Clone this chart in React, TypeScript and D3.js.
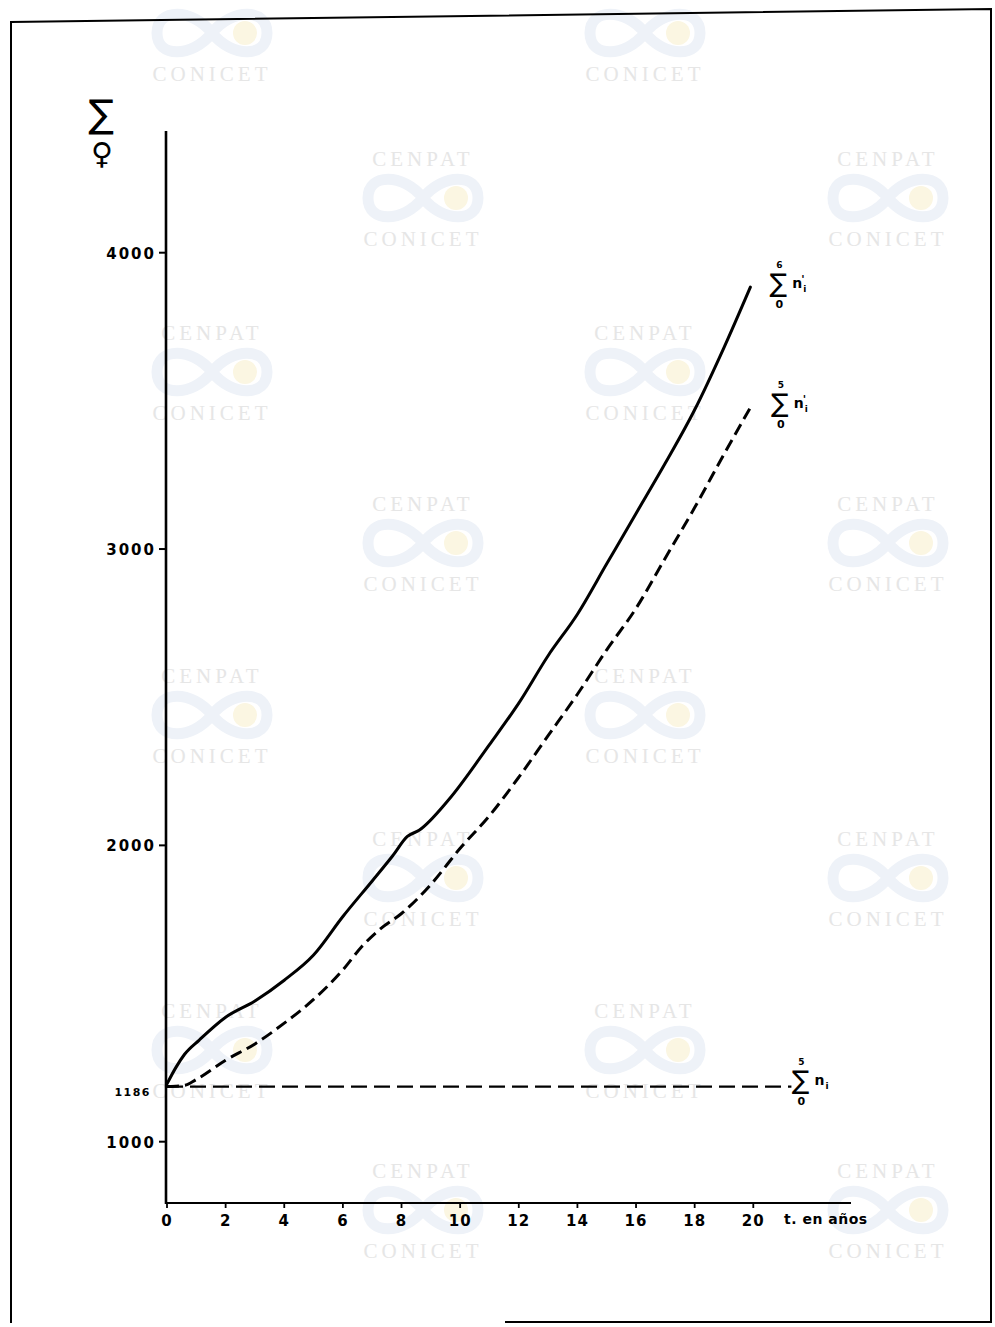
import React from "react";
import * as d3 from "d3";

// years since t = 0
const solidYears = [0, 0.3, 0.6, 1.1, 2, 3, 4, 5, 6, 7, 7.7, 8.2, 8.6, 9.6, 11, 12, 13, 14, 15, 16, 17, 18, 19, 19.9];
const solidFemales = [1195, 1250, 1295, 1343, 1420, 1475, 1545, 1630, 1760, 1880, 1965, 2030, 2051, 2153, 2340, 2480, 2640, 2780, 2950, 3120, 3290, 3470, 3680, 3884];

const dashYears = [0, 0.6, 1, 2, 3, 4, 5, 6, 6.64, 7.3, 8, 9, 10, 11, 12, 13, 14, 15, 16, 17, 18, 19, 19.95];
const dashFemales = [1186, 1190, 1210, 1275, 1330, 1400, 1480, 1580, 1658, 1720, 1770, 1868, 1990, 2100, 2230, 2370, 2510, 2660, 2800, 2970, 3140, 3320, 3486];

const baseYears = [0, 21.3];
const baseFemales = [1186, 1186];

const xTicks = [0, 2, 4, 6, 8, 10, 12, 14, 16, 18, 20];
const yTicks = [1000, 2000, 3000, 4000];
const baseLabel = "1186";
const xTitle = "t. en años";

// scanned watermark rows (top of the CENPAT line)
const markRowsA = [-7, 332, 675, 1010];
const markRowsB = [158, 503, 838, 1170];
const markColsA = [212, 645];
const markColsB = [423, 888];

const W = 995;
const H = 1327;

const x = d3.scaleLinear().domain([0, 20]).range([167, 753.3]);
const y = d3.scaleLinear().domain([1000, 4000]).range([1141.7, 252.7]);

const line = d3
  .line<[number, number]>()
  .x((d) => x(d[0]))
  .y((d) => y(d[1]))
  .curve(d3.curveMonotoneX);

const zip = (a: number[], b: number[]) => a.map((v, i) => [v, b[i]] as [number, number]);

const font = "'DejaVu Sans', sans-serif";

const Watermark = ({ cx, top }: { cx: number; top: number }) => (
  <g>
    {top > 0 && (
      <text x={cx} y={top + 8} textAnchor="middle" fontFamily="'Liberation Serif', serif" fontSize={21} letterSpacing={4} fill="#e6e6e6">
        CENPAT
      </text>
    )}
    <path
      d={`M${cx - 55},${top + 40} C${cx - 55},${top + 15} ${cx - 20},${top + 15} ${cx},${top + 40} C${cx + 20},${top + 65} ${cx + 55},${top + 65} ${cx + 55},${top + 40} C${cx + 55},${top + 15} ${cx + 20},${top + 15} ${cx},${top + 40} C${cx - 20},${top + 65} ${cx - 55},${top + 65} ${cx - 55},${top + 40} Z`}
      fill="none"
      stroke="#eef2f8"
      strokeWidth={11}
    />
    <circle cx={cx + 33} cy={top + 40} r={12} fill="#fbf6e2" />
    <text x={cx} y={top + 88} textAnchor="middle" fontFamily="'Liberation Serif', serif" fontSize={21} letterSpacing={4} fill="#e6e6e6">
      CONICET
    </text>
  </g>
);

const SumLabel = ({ cx, cy, top, prime }: { cx: number; cy: number; top: string; prime: boolean }) => (
  <g fontFamily={font} fill="#000">
    <text x={cx} y={cy} textAnchor="middle" dominantBaseline="central" fontSize={26}>
      ∑
    </text>
    <text x={cx + 1} y={cy - 15} textAnchor="middle" fontSize={9} fontWeight="bold">
      {top}
    </text>
    <text x={cx + 1} y={cy + 25} textAnchor="middle" fontSize={11} fontWeight="bold">
      0
    </text>
    <text x={cx + 14} y={cy + 5} fontSize={14} fontWeight="bold">
      n
    </text>
    {prime && (
      <text x={cx + 23} y={cy} fontSize={11} fontWeight="bold">
        '
      </text>
    )}
    <text x={cx + 25} y={cy + 9} fontSize={9} fontWeight="bold">
      i
    </text>
  </g>
);

export default function App() {
  const solid = zip(solidYears, solidFemales);
  const dashed = zip(dashYears, dashFemales);
  const base = zip(baseYears, baseFemales);
  const axisBottom = 1203;
  const solidEnd = solid[solid.length - 1];
  const dashEnd = dashed[dashed.length - 1];
  const baseEnd = base[base.length - 1];

  return (
    <svg width={W} height={H} style={{ position: "absolute", left: 0, top: 0, background: "#fff" }}>
      <rect width={W} height={H} fill="#fff" />
      {markRowsA.map((t) => markColsA.map((c) => <Watermark key={`a${t}${c}`} cx={c} top={t} />))}
      {markRowsB.map((t) => markColsB.map((c) => <Watermark key={`b${t}${c}`} cx={c} top={t} />))}

      {/* frame of the scanned page */}
      <path d="M11,1323 L11,22 L991,9 L991,1322 L505,1322" fill="none" stroke="#000" strokeWidth={2} />

      {/* axes */}
      <line x1={166} x2={166} y1={131} y2={axisBottom + 1} stroke="#000" strokeWidth={2.6} />
      <line x1={165} x2={851} y1={axisBottom} y2={axisBottom} stroke="#000" strokeWidth={2.2} />
      {yTicks.map((v) => (
        <g key={v}>
          <line x1={159} x2={166} y1={y(v)} y2={y(v)} stroke="#000" strokeWidth={2} />
          <text x={156} y={y(v) + 6} textAnchor="end" fontFamily={font} fontWeight="bold" fontSize={15} letterSpacing={2}>
            {v}
          </text>
        </g>
      ))}
      <text x={151} y={y(1186) + 9} textAnchor="end" fontFamily={font} fontWeight="bold" fontSize={11} letterSpacing={1.5}>
        {baseLabel}
      </text>
      {xTicks.map((t) => (
        <g key={t}>
          <line x1={x(t)} x2={x(t)} y1={axisBottom} y2={axisBottom + 5} stroke="#000" strokeWidth={1.8} />
          <text x={x(t)} y={axisBottom + 23} textAnchor="middle" fontFamily={font} fontWeight="bold" fontSize={15} letterSpacing={1}>
            {t}
          </text>
        </g>
      ))}
      <text x={784} y={axisBottom + 21} fontFamily={font} fontWeight="bold" fontSize={14} letterSpacing={0.5}>
        {xTitle}
      </text>

      {/* y title: sum of females */}
      <text x={101} y={114} textAnchor="middle" dominantBaseline="central" fontFamily={font} fontSize={38}>
        ∑
      </text>
      <text x={102} y={153} textAnchor="middle" dominantBaseline="central" fontFamily={font} fontSize={30}>
        ♀
      </text>

      {/* series */}
      <path d={line(base) || ""} fill="none" stroke="#000" strokeWidth={2.4} strokeDasharray="16 7" />
      <path d={line(dashed) || ""} fill="none" stroke="#000" strokeWidth={3} strokeDasharray="12 6" />
      <path d={line(solid) || ""} fill="none" stroke="#000" strokeWidth={3} strokeLinecap="round" />

      <SumLabel cx={x(solidEnd[0]) + 28} cy={y(solidEnd[1]) - 4} top="6" prime={true} />
      <SumLabel cx={x(dashEnd[0]) + 28} cy={y(dashEnd[1]) - 2} top="5" prime={true} />
      <SumLabel cx={x(baseEnd[0]) + 9} cy={y(baseEnd[1]) - 7} top="5" prime={false} />
    </svg>
  );
}
